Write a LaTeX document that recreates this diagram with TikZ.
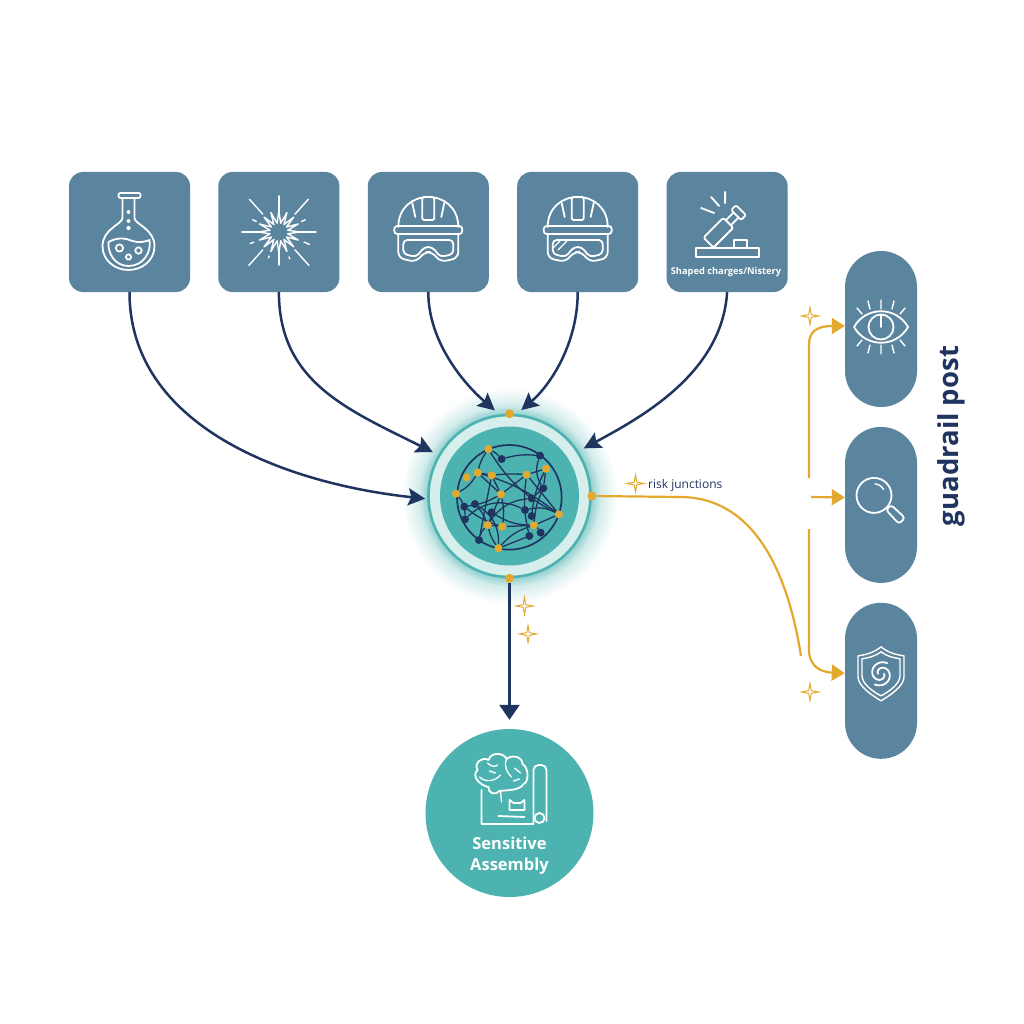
\documentclass[tikz,border=0pt]{standalone}
\usepackage{fontspec}
\usepackage{xcolor}
\usetikzlibrary{arrows.meta,positioning,shapes.geometric}
\setsansfont{Open Sans}
\definecolor{slateblue}{HTML}{5B849F}
\definecolor{hubteal}{HTML}{4DB3B0}
\definecolor{hubpale}{HTML}{D6EFEC}
\definecolor{navyline}{HTML}{1F3560}
\definecolor{goldline}{HTML}{E3A92F}
\pgfdeclareradialshading{hubglow}{\pgfpointorigin}{color(0bp)=(hubteal!60); color(19bp)=(hubteal!60); color(21bp)=(hubteal!25); color(25bp)=(white); color(50bp)=(white)}
\pgfdeclarelayer{netdots}
\pgfsetlayers{main,netdots}
\tikzset{
    sourcebox/.style={fill=slateblue,rounded corners=14pt,minimum width=121pt,minimum height=120pt,inner sep=0pt},
    guardpill/.style={fill=slateblue,rounded corners=36pt,minimum width=72pt,minimum height=156pt,inner sep=0pt},
    junction/.style={circle,fill=goldline,minimum size=9pt,inner sep=0pt},
    netgold/.style={circle,fill=goldline,minimum size=8pt,inner sep=0pt},
    netnavy/.style={circle,fill=navyline,minimum size=8pt,inner sep=0pt},
    sparkle/.style={star,star points=4,star point ratio=4.5,draw=goldline,line width=1pt,fill=white,minimum size=17pt,inner sep=0pt},
    flowline/.style={draw=navyline,line width=2.5pt,shorten >=6pt,-{Stealth[length=17pt,width=17pt,inset=3pt]}},
    goldflow/.style={draw=goldline,line width=2.2pt,-{Triangle[length=13pt,width=16pt]}},
    goldrun/.style={draw=goldline,line width=2.2pt},
    iconline/.style={draw=white,line width=1.8pt,line cap=round,line join=round},
    netlink/.style={draw=navyline,line width=1.3pt},
    flaskicon/.pic={
        \draw[iconline,rounded corners=2pt] (-11,-39) rectangle (11,-34);
        \draw[iconline] (-7,-34) -- (-7,-14) .. controls (-7,-8) and (-27,-3) .. (-27,14) .. controls (-27,28) and (-15,38) .. (-1,38) .. controls (13,38) and (25,28) .. (25,14) .. controls (25,-3) and (5,-8) .. (5,-14) -- (5,-34);
        \draw[iconline] (-21,10) .. controls (-12,5) and (-4,6) .. (3,9) .. controls (9,11) and (15,10) .. (20,8) .. controls (22,20) and (14,34) .. (-1,34) .. controls (-14,34) and (-22,22) .. (-21,10);
        \draw[iconline] (-10,16) circle (3.6) (9,18.5) circle (3.2) (-1,25) circle (2.6);
        \draw[iconline] (-1,-20) circle (1.2) (-1,-11) circle (1.2) (-1,-4) circle (1.4);
    },
    bursticon/.pic={
        \draw[iconline,line width=1.4pt] plot[domain=0:360,samples=33,variable=\t] ({(15+6*cos(16*\t))*cos(\t)},{(15+6*cos(16*\t))*sin(\t)});
        \foreach \ang/\ra/\rb in {0/21/37,180/21/37,90/21/33,270/21/36,48/24/45,132/24/45,228/24/44,312/24/44}
            \draw[iconline,line width=1.4pt] (\ang:\ra) -- (\ang:\rb);
        \foreach \ang/\ra/\rb in {22/27/33,158/27/31,205/25/29,335/25/29,112/26/28,68/27/29}
            \draw[iconline,line width=1.4pt] (\ang:\ra) -- (\ang:\rb);
    },
    helmeticon/.pic={
        \draw[iconline] (-30,-5) .. controls (-30,-24) and (-16,-35) .. (0,-35) .. controls (16,-35) and (30,-24) .. (30,-5);
        \draw[iconline,rounded corners=3pt] (-34,-6) rectangle (34,2);
        \draw[iconline,rounded corners=2pt] (-6,-35) rectangle (6,-12);
        \draw[iconline] (-16,-29) -- (-13,-15) (16,-29) -- (13,-15);
        \draw[iconline,rounded corners=6pt] (-30,2) -- (-30,26) -- (-12,30) -- (-4,20) -- (4,20) -- (12,30) -- (30,26) -- (30,2);
        \draw[iconline,rounded corners=4pt] (-25,8) -- (-25,22) -- (-12,25) -- (-4,15) -- (4,15) -- (12,25) -- (25,22) -- (25,8) -- cycle;
    },
    chargeicon/.pic={
        \draw[iconline] (-31,16) rectangle (32,25);
        \draw[iconline] (7,16) -- (7,8) -- (20,8) -- (20,16);
        \begin{scope}[shift={(-8,0)},rotate=45]
            \draw[iconline,rounded corners=2pt] (-15,-7) rectangle (13,7);
            \draw[iconline] (13,-3.5) -- (24,-3.5) (13,3.5) -- (24,3.5);
            \draw[iconline,rounded corners=1.5pt] (24,-7) rectangle (31,7);
        \end{scope}
        \draw[iconline] (-16,-35) -- (-8,-26) (-2,-40) -- (-2,-29) (-26,-24) -- (-13,-19);
    },
    eyeicon/.pic={
        \draw[iconline] (-27,0) .. controls (-15,-21) and (15,-21) .. (27,0) .. controls (15,21) and (-15,21) .. (-27,0) -- cycle;
        \draw[iconline] (0,0) circle (12.5);
        \draw[iconline] (0,-12) -- (0,0);
        \foreach \dy in {-1,1}
            \draw[iconline,line width=1.4pt] (0,18*\dy) -- (0,27*\dy) (-11,18*\dy) -- (-13,26*\dy) (11,18*\dy) -- (13,26*\dy) (-19,13*\dy) -- (-24,19*\dy) (19,13*\dy) -- (24,19*\dy);
    },
    lensicon/.pic={
        \draw[iconline] (-7,-9.5) circle (17.5);
        \draw[iconline,line width=1.4pt] (-6,-21) arc[start angle=-85,end angle=-30,radius=11];
        \draw[iconline,rounded corners=3pt] (5,5) -- (10,0) -- (24,13) -- (18,19) -- cycle;
    },
    shieldicon/.pic={
        \draw[iconline,line width=1.4pt] (0,-34) .. controls (6,-29) and (14,-26) .. (23,-25) -- (23,-4) .. controls (23,5) and (10,14) .. (0,20) .. controls (-10,14) and (-23,5) .. (-23,-4) -- (-23,-25) .. controls (-14,-26) and (-6,-29) .. (0,-34) -- cycle;
        \draw[iconline,line width=1.4pt] (0,-29) .. controls (5,-25) and (12,-23) .. (19,-22) -- (19,-5) .. controls (19,3) and (8,11) .. (0,15) .. controls (-8,11) and (-19,3) .. (-19,-5) -- (-19,-22) .. controls (-12,-23) and (-5,-25) .. (0,-29) -- cycle;
        \draw[iconline] plot[domain=0:300,samples=30,variable=\t] ({(3+\t/32)*cos(\t)},{-7+(3+\t/32)*sin(\t)});
        \draw[iconline] plot[domain=0:300,samples=30,variable=\t] ({(3+\t/32)*cos(\t+180)},{-7+(3+\t/32)*sin(\t+180)});
    },
    plansicon/.pic={
        \draw[iconline] (-28,-23) -- (-28,11) -- (24,11) (-11,3) -- (15,4);
        \draw[iconline,rounded corners=5pt] (24,10) -- (24,-48) -- (37,-48) -- (37,8);
        \draw[iconline] (30,5) circle (5);
        \draw[iconline] (0,-13) -- (0,-3) -- (15,-3) -- (15,-13) -- (11,-10) -- (4,-10) -- cycle;
        \draw[iconline,fill=hubteal] (-10,-22) .. controls (-14,-17) and (-22,-20) .. (-21,-26) .. controls (-28,-27) and (-39,-36) .. (-32,-43) .. controls (-36,-50) and (-27,-57) .. (-21,-53) .. controls (-18,-62) and (-5,-60) .. (-3,-54) .. controls (3,-59) and (13,-56) .. (13,-49) .. controls (20,-45) and (19,-30) .. (14,-29) .. controls (10,-22) and (-4,-23) .. (-10,-22) -- cycle;
        \draw[iconline,line width=1.3pt] (-3,-54) .. controls (-6,-46) and (-2,-40) .. (2,-36) (-30,-36) .. controls (-24,-30) and (-14,-32) .. (-9,-38) (-22,-50) .. controls (-18,-46) and (-14,-46) .. (-12,-48) (-9,-22) -- (-8,-11) (5,-45) -- (11,-40) (-20,-42) -- (-14,-40) (4,-32) -- (10,-34);
    }
}
\begin{document}
\begin{tikzpicture}[x=1pt,y=-1pt]
    \useasboundingbox[fill=white] (0,0) rectangle (1024,1024);

    % sources
    \node[sourcebox] (flask) at (129.5,232) {};
    \node[sourcebox,right=28pt of flask] (burst) {};
    \node[sourcebox,right=28pt of burst] (helmet) {};
    \node[sourcebox,right=28pt of helmet] (goggles) {};
    \node[sourcebox,right=28pt of goggles] (charge) {};
    \pic at (flask) {flaskicon};
    \pic at (burst) {bursticon};
    \pic at (helmet) {helmeticon};
    \pic at (goggles) {helmeticon};
    \draw[iconline,line width=1.3pt] (553,248) -- (560,241) (558,250) -- (567,241);
    \pic at (charge) {chargeicon};
    \node[text=white,font=\sffamily\bfseries\fontsize{9.3}{11}\selectfont,inner sep=0pt] (chargetext) at (726,272) {Shaped charges/Nistery};

    % hub
    \shade[shading=hubglow] (509.5,496) circle (108);
    \node[circle,draw=hubteal,line width=2.6pt,fill=hubpale,minimum size=162pt,inner sep=0pt] (hub) at (509.5,496) {};
    \node[circle,fill=hubteal,minimum size=139pt,inner sep=0pt] (hubcore) at (hub) {};
    \node[junction] (hubtop) at (hub.north) {};
    \node[junction] (hubright) at (hub.east) {};
    \node[junction] (hubbottom) at (hub.south) {};

    \begin{scope}[shift={(410,395)},x=.3333pt,y=-.3333pt]
        \draw[netlink,line width=1.7pt] (298,307) circle (157);
        \begin{pgfonlayer}{netdots}
            \foreach \name/\px/\py in {a/235/162,b/203/233,c/245/241,d/350/239,e/408/221,f/138/296,g/273/298,h/447/358,i/233/390,j/277/395,k/372/391,l/265/460,m/170/247}
                \node[netgold] (\name) at (\px,\py) {};
            \foreach \name/\px/\py in {p/275/192,q/390/182,r/400/280,s/365/310,t/163/335,u/195/327,v/345/345,w/365/363,x/165/373,y/207/435,z/358/423,o/392/413,n/245/352}
                \node[netnavy] (\name) at (\px,\py) {};
        \end{pgfonlayer}
        \foreach \from/\to/\bend in {a/p/10,a/b/-10,b/c/0,c/d/5,d/e/0,b/g/0,c/g/0,d/g/0,g/i/0,g/j/10,g/t/10,f/b/-15,f/x/20,i/j/0,j/k/0,i/l/-10,l/k/15,l/z/0,h/d/0,h/v/-20,h/k/0,v/x/-35,u/i/10,u/l/30,b/h/10,e/r/0,r/k/-10,r/s/0,s/i/-25,q/p/-10,q/r/-25,y/i/15,t/j/-10,d/z/-10,c/y/0,a/h/-15,n/k/-15,w/o/-5,e/w/-10}
            \draw[netlink] (\from) to[bend left=\bend] (\to);
    \end{scope}

    % sinks
    \node[circle,fill=hubteal,minimum size=168pt,inner sep=0pt] (assembly) at (509.5,813) {};
    \pic at (assembly) {plansicon};
    \node[text=white,font=\sffamily\bfseries\fontsize{16.5}{21}\selectfont,align=center,inner sep=0pt] (assemblytext) at (509.5,856) {Sensitive\\Assembly};

    \node[guardpill] (eye) at (881,329) {};
    \node[guardpill,below=19.5pt of eye] (lens) {};
    \node[guardpill,below=19.5pt of lens] (shield) {};
    \pic[shift={(0,-2)}] at (eye) {eyeicon};
    \pic at (lens) {lensicon};
    \pic at (shield) {shieldicon};
    \node[rotate=90,text=navyline,font=\sffamily\bfseries\fontsize{27.5}{30}\selectfont,inner sep=0pt] (guardtext) at (951,436) {guadrail post};

    % flows
    \draw[flowline,shorten >=2pt] (flask.south) .. controls +(0,135) and +(-140,-15) .. (hub.182);
    \draw[flowline] (burst.south) .. controls +(0,90) and +(-90,-45) .. (hub.150);
    \draw[flowline] (helmet.south) .. controls +(0,50) and +(-35,-30) .. (hub.97);
    \draw[flowline] (goggles.south) .. controls +(0,50) and +(35,-30) .. (hub.85);
    \draw[flowline] (charge.south) .. controls +(-5,80) and +(65,-35) .. (hub.33);
    \draw[flowline,shorten >=9pt,-{Stealth[length=15pt,width=20pt,inset=0pt]}] (hubbottom) -- (assembly.north);

    \coordinate (riskend) at (801,656);
    \coordinate (upperend) at (809,478);
    \coordinate (lowerend) at (809,529);
    \coordinate (midstart) at (811,497);
    \draw[goldrun] (hubright) -- (680,497) .. controls (745,497) and (785,555) .. (riskend);
    \draw[goldflow] (upperend) -- (809,345) .. controls (809,332) and (816,326) .. ([yshift=3pt]eye.west);
    \draw[goldflow] (midstart) -- ([yshift=7.5pt]lens.west);
    \draw[goldflow] (lowerend) -- (809,650) .. controls (809,664) and (818,672) .. ([yshift=7.5pt]shield.west);

    \node[sparkle] (sparkrisk) at (635.5,483.5) {};
    \node[sparkle] (sparkmida) at (524.5,606) {};
    \node[sparkle] (sparkmidb) at (528,634) {};
    \node[sparkle] (sparkeye) at (810,316) {};
    \node[sparkle] (sparkshield) at (810,692) {};
    \node[text=navyline,font=\sffamily\fontsize{12}{14}\selectfont,inner sep=0pt,anchor=west] (risktext) at (648,485.5) {risk junctions};
\end{tikzpicture}
\end{document}
